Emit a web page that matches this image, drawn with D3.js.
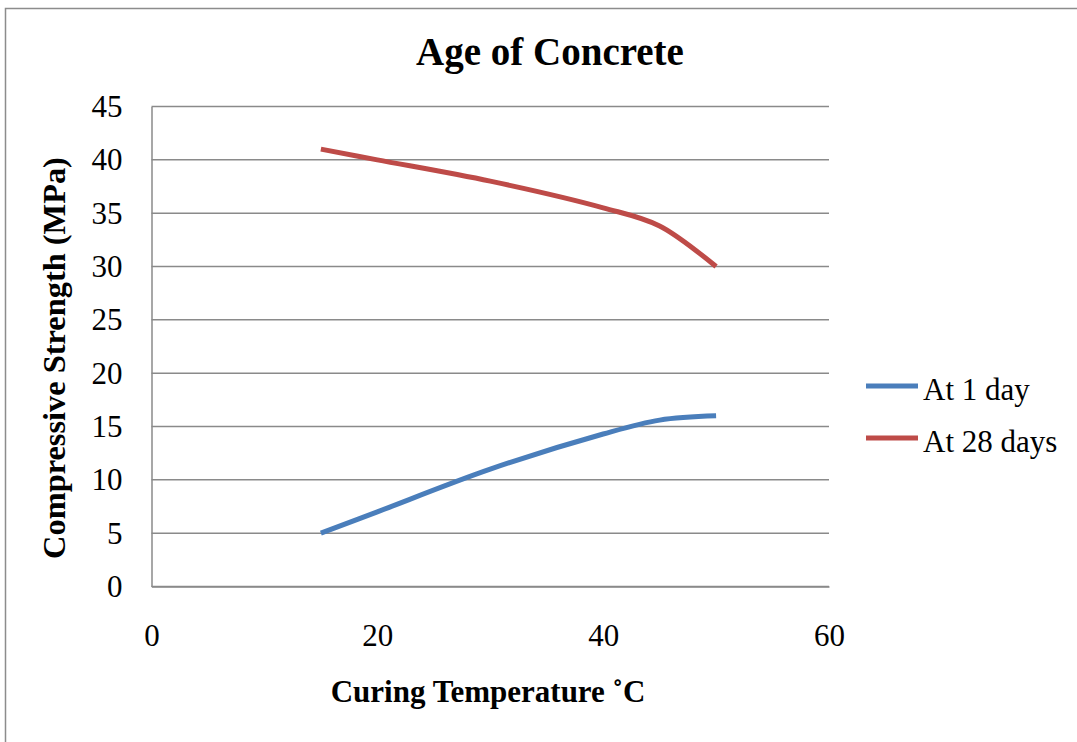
<!DOCTYPE html>
<html>
<head>
<meta charset="utf-8">
<title>Age of Concrete</title>
<script src="https://d3js.org/d3.v7.min.js"></script>
<style>
  body { margin: 0; background: #fff; }
  svg text { font-family: "Liberation Serif", "Times New Roman", serif; fill: #000; }
</style>
</head>
<body>
<script>
// values
var temps = [15, 20, 30, 40, 45, 50];
var oneDay = [5, 7, 11, 14.3, 15.6, 16];
var twentyEightDays = [41, 40, 38, 35.5, 33.8, 30];
var seriesNames = ["At 1 day", "At 28 days"];
var seriesColors = ["#4a7ebb", "#be4b48"];
var xTicks = [0, 20, 40, 60];
var yTicks = [0, 5, 10, 15, 20, 25, 30, 35, 40, 45];

var width = 1077, height = 742;
var svg = d3.select("body").append("svg")
    .attr("width", width)
    .attr("height", height)
    .style("display", "block");

// outer chart frame (runs off the right and bottom)
svg.append("path")
    .attr("d", "M5.5," + height + "V8.5H" + width)
    .attr("fill", "none")
    .attr("stroke", "#8c8c8c")
    .attr("stroke-width", 1.5);

var x = d3.scaleLinear().domain([0, 60]).range([151.5, 829]);
var y = d3.scaleLinear().domain([0, 45]).range([586.5, 106.5]);

// gridlines
svg.append("g")
  .selectAll("line")
  .data(yTicks)
  .enter().append("line")
    .attr("x1", x(0)).attr("x2", x(60))
    .attr("y1", function(d) { return y(d); })
    .attr("y2", function(d) { return y(d); })
    .attr("stroke", "#8a8a8a")
    .attr("stroke-width", 1.5);

var yAxis = svg.append("g")
    .attr("transform", "translate(" + x(0) + ",0)")
    .call(d3.axisLeft(y).tickValues(yTicks).tickSize(0).tickPadding(29));
var xAxis = svg.append("g")
    .attr("transform", "translate(0," + y(0) + ")")
    .call(d3.axisBottom(x).tickValues(xTicks).tickSize(0).tickPadding(37));

[yAxis, xAxis].forEach(function(g) {
  g.attr("font-family", null).attr("font-size", null);
  g.select(".domain").attr("stroke", "#8a8a8a").attr("stroke-width", 1.5);
  g.selectAll("text")
    .style("font-size", "31px");
});

// series lines
var line = d3.line()
    .x(function(d) { return x(d[0]); })
    .y(function(d) { return y(d[1]); })
    .curve(d3.curveCatmullRom.alpha(0.5));

[oneDay, twentyEightDays].forEach(function(vals, i) {
  svg.append("path")
    .datum(temps.map(function(t, j) { return [t, vals[j]]; }))
    .attr("d", line)
    .attr("fill", "none")
    .attr("stroke", seriesColors[i])
    .attr("stroke-width", 5);
});

// title and axis titles
svg.append("text")
    .attr("x", 550).attr("y", 65)
    .attr("text-anchor", "middle")
    .style("font-size", "39px").style("font-weight", "bold")
    .text("Age of Concrete");

svg.append("text")
    .attr("x", 488).attr("y", 702)
    .attr("text-anchor", "middle")
    .style("font-size", "31px").style("font-weight", "bold")
    .text("Curing Temperature ˚C");

svg.append("text")
    .attr("transform", "translate(65,358) rotate(-90)")
    .attr("text-anchor", "middle")
    .style("font-size", "32.4px").style("font-weight", "bold")
    .text("Compressive Strength (MPa)");

// legend
var legend = svg.append("g")
  .selectAll("g")
  .data(seriesNames)
  .enter().append("g")
    .attr("transform", function(d, i) { return "translate(866," + (386 + i * 52) + ")"; });

legend.append("line")
    .attr("x1", 0).attr("x2", 52)
    .attr("stroke", function(d, i) { return seriesColors[i]; })
    .attr("stroke-width", 5);

legend.append("text")
    .attr("x", 57).attr("y", 14)
    .style("font-size", "31px")
    .text(function(d) { return d; });
</script>
</body>
</html>
